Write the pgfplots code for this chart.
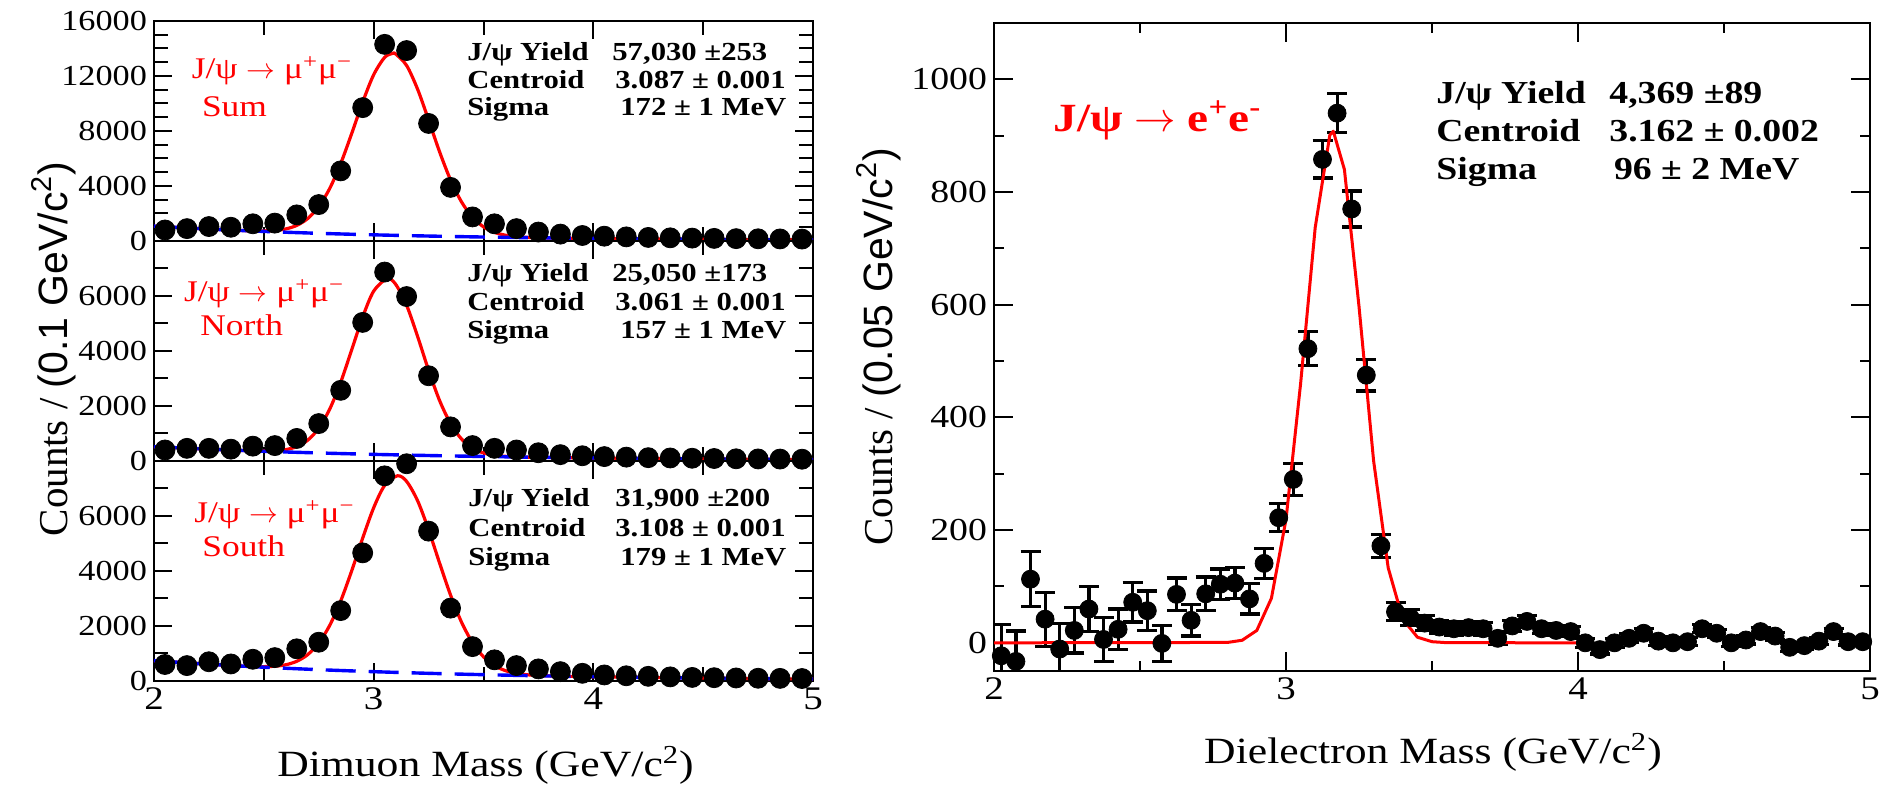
\documentclass[border=0pt]{standalone}
\usepackage{fontspec}
\setmainfont{Liberation Serif}[FakeStretch=1.18]
\newfontfamily\rserif{Liberation Serif}
\newfontfamily\rsans{Liberation Sans}
\usepackage{pgfplots}
\pgfplotsset{compat=1.18}
\newcommand{\fs}[1]{\fontsize{#1}{#1}\selectfont}
\newcommand{\arr}{\ensuremath{\rightarrow}}
\begin{document}
\begin{tikzpicture}
\useasboundingbox (0,0) rectangle (945pt,-392.5pt);
\pgfplotsset{
  leftpanel/.style={
    at={(77pt,#1)}, anchor=north west,
    width=329.5pt, height=110pt, scale only axis,
    xmin=2, xmax=5, ymin=0,
    xtick={2,3,4,5}, minor xtick={2.5,3.5,4.5},
    tick align=inside, major tick length=9pt, minor tick length=7pt,
    axis line style={line width=1pt},
    tick style={black, line width=1pt},
    yticklabel style={font=\fs{14.5}},
    xticklabel style={font=\fs{16.5}},
    scaled y ticks=false,
    /pgf/number format/assume math mode=true,
    /pgf/number format/1000 sep={},
  },
  datapts/.style={only marks, mark=*, mark size=5pt, black, mark options={fill=black, draw=black}},
  fitline/.style={red, line width=1.6pt, smooth, line join=round},
  bgline/.style={blue, line width=1.7pt, dash pattern=on 15pt off 6.5pt, smooth},
}
% ---------- top panel (Sum)
\begin{axis}[leftpanel={-10.5pt}, ymax=16000,
  ytick={0,4000,8000,12000,16000},
  minor ytick={1000,2000,3000,5000,6000,7000,9000,10000,11000,13000,14000,15000},
  xticklabels={}]
\addplot[datapts] coordinates {(2.05,800)(2.15,900)(2.25,1050)(2.35,1000)(2.45,1250)(2.55,1300)(2.65,1900)(2.75,2650)(2.85,5100)(2.95,9700)(3.05,14300)(3.15,13850)(3.25,8550)(3.35,3900)(3.45,1750)(3.55,1250)(3.65,900)(3.75,650)(3.85,500)(3.95,400)(4.05,350)(4.15,300)(4.25,260)(4.35,230)(4.45,210)(4.55,190)(4.65,170)(4.75,160)(4.85,150)(4.95,140)};
\addplot[fitline] coordinates {(2.0,1080)(2.1,989)(2.2,906)(2.3,829)(2.4,760)(2.45,741)(2.5,735)(2.55,767)(2.6,877)(2.65,1134)(2.7,1636)(2.75,2499)(2.8,3823)(2.85,5631)(2.9,7816)(2.95,10102)(3.0,12089)(3.05,13356)(3.087,13645)(3.1,13602)(3.15,12764)(3.2,11038)(3.25,8805)(3.3,6489)(3.35,4440)(3.4,2842)(3.45,1728)(3.5,1029)(3.55,629)(3.6,419)(3.65,315)(3.7,265)(3.75,240)(3.8,222)(4.0,186)(4.25,149)(4.5,120)(4.75,96)(5.0,77)};
\addplot[bgline] coordinates {(2.0,1080)(2.25,867)(2.5,696)(2.75,558)(3.0,448)(3.25,360)(3.5,288)(3.75,232)(4.0,186)(4.25,149)(4.5,120)(4.75,96)(5.0,77)};
\end{axis}
% ---------- middle panel (North)
\begin{axis}[leftpanel={-120.5pt}, ymax=8000,
  ytick={0,2000,4000,6000}, minor ytick={1000,3000,5000,7000},
  xticklabels={}]
\addplot[datapts] coordinates {(2.05,400)(2.15,460)(2.25,460)(2.35,430)(2.45,540)(2.55,560)(2.65,820)(2.75,1360)(2.85,2570)(2.95,5040)(3.05,6870)(3.15,5980)(3.25,3100)(3.35,1240)(3.45,560)(3.55,460)(3.65,400)(3.75,300)(3.85,230)(3.95,190)(4.05,160)(4.15,140)(4.25,120)(4.35,110)(4.45,100)(4.55,90)(4.65,80)(4.75,75)(4.85,70)(4.95,65)};
\addplot[fitline] coordinates {(2.0,520)(2.1,481)(2.2,446)(2.3,413)(2.4,382)(2.5,365)(2.55,373)(2.6,414)(2.65,523)(2.7,758)(2.75,1192)(2.8,1888)(2.85,2864)(2.9,4043)(2.95,5235)(3.0,6176)(3.061,6630)(3.1,6428)(3.15,5664)(3.2,4531)(3.25,3300)(3.3,2200)(3.35,1360)(3.4,799)(3.45,467)(3.5,292)(3.55,208)(3.6,170)(3.65,152)(3.7,140)(3.8,130)(4.0,111)(4.25,92)(4.5,76)(4.75,63)(5.0,52)};
\addplot[bgline] coordinates {(2.0,520)(2.25,429)(2.5,354)(2.75,292)(3.0,241)(3.25,199)(3.5,164)(3.75,135)(4.0,111)(4.25,92)(4.5,76)(4.75,63)(5.0,52)};
\end{axis}
% ---------- bottom panel (South)
\begin{axis}[leftpanel={-230.5pt}, ymax=8000,
  ytick={0,2000,4000,6000}, minor ytick={1000,3000,5000,7000}]
\addplot[datapts] coordinates {(2.05,600)(2.15,560)(2.25,700)(2.35,620)(2.45,790)(2.55,850)(2.65,1170)(2.75,1410)(2.85,2560)(2.95,4660)(3.05,7460)(3.15,7900)(3.25,5450)(3.35,2650)(3.45,1250)(3.55,770)(3.65,560)(3.75,440)(3.85,340)(3.95,280)(4.05,220)(4.15,190)(4.25,170)(4.35,150)(4.45,130)(4.55,120)(4.65,110)(4.75,100)(4.85,95)(4.95,90)};
\addplot[fitline] coordinates {(2.0,740)(2.1,684)(2.2,633)(2.3,586)(2.4,542)(2.45,529)(2.5,523)(2.55,537)(2.6,590)(2.65,717)(2.7,961)(2.75,1380)(2.8,2023)(2.85,2911)(2.9,4007)(2.95,5196)(3.0,6299)(3.05,7111)(3.108,7462)(3.15,7258)(3.2,6555)(3.25,5499)(3.3,4290)(3.35,3125)(3.4,2138)(3.45,1392)(3.5,880)(3.55,560)(3.6,376)(3.65,277)(3.7,226)(3.75,201)(3.8,186)(3.9,168)(4.0,155)(4.25,128)(4.5,105)(4.75,87)(5.0,71)};
\addplot[bgline] coordinates {(2.0,740)(2.25,609)(2.5,501)(2.75,412)(3.0,339)(3.25,279)(3.5,230)(3.75,189)(4.0,155)(4.25,128)(4.5,105)(4.75,87)(5.0,71)};
\end{axis}
% ---------- right panel (dielectron)
\begin{axis}[at={(497pt,-11.5pt)}, anchor=north west,
  width=438pt, height=324pt, scale only axis,
  xmin=2, xmax=5, ymin=-50, ymax=1100,
  xtick={2,3,4,5}, minor xtick={2.5,3.5,4.5},
  ytick={0,200,400,600,800,1000}, minor ytick={100,300,500,700,900},
  tick align=inside, major tick length=9.5pt, minor tick length=5pt,
  axis line style={line width=1pt},
  tick style={black, line width=1pt},
  yticklabel style={font=\fs{16}},
  xticklabel style={font=\fs{16.5}},
  scaled y ticks=false,
  /pgf/number format/assume math mode=true,
  /pgf/number format/1000 sep={}]
\addplot[only marks, mark=*, mark size=4.5pt, black,
  error bars/.cd, y dir=both, y explicit,
  error bar style={line width=1.6pt, black},
  error mark options={rotate=90, mark size=5pt, line width=1.6pt, black}]
  table[x=x, y=y, y error=e] {
x y e
2.025 -23 56
2.075 -33 54
2.125 113 49
2.175 42 48
2.225 -11 45
2.275 22 40
2.325 60 40
2.375 6 39
2.425 24 36
2.475 72 35
2.525 57 35
2.575 -1 32
2.625 86 29
2.675 40 28
2.725 87 30
2.775 104 27
2.825 106 27
2.875 78 27
2.925 141 27
2.975 222 25
3.025 290 28
3.075 522 30
3.125 858 33
3.175 940 35
3.225 770 32
3.275 475 28
3.325 172 20
3.375 55 16
3.425 45 14
3.475 35 13
3.525 28 12
3.575 25 12
3.625 27 11
3.675 25 11
3.725 8 10
3.775 30 10
3.825 38 10
3.875 25 9
3.925 22 9
3.975 20 9
4.025 0 8
4.075 -12 8
4.125 0 8
4.175 8 8
4.225 17 8
4.275 3 8
4.325 0 7
4.375 2 7
4.425 25 7
4.475 17 7
4.525 0 7
4.575 5 7
4.625 20 7
4.675 12 7
4.725 -8 7
4.775 -5 6
4.825 3 6
4.875 20 6
4.925 2 6
4.975 2 6
};
\addplot[red, line width=1.5pt, line join=round] coordinates {(2.0,0)(2.8,0.7)(2.85,4.6)(2.9,22)(2.95,79)(3.0,219)(3.05,460)(3.1,737)(3.15,901)(3.162,908)(3.2,840)(3.25,597)(3.3,323)(3.35,133)(3.4,42)(3.45,10)(3.5,2)(3.55,0.3)(4.0,0)};
\end{axis}
% ---------- annotations, left
\begin{scope}[every node/.style={inner sep=0pt, anchor=base west}]
\node[font=\fs{13}\bfseries] at (233.5pt,-30.5pt) {J/ψ Yield};
\node[font=\fs{13}\bfseries] at (306pt,-30.5pt) {57,030 ±253};
\node[font=\fs{13}\bfseries] at (233.5pt,-44.5pt) {Centroid};
\node[font=\fs{13}\bfseries] at (307.5pt,-44.5pt) {3.087 ± 0.001};
\node[font=\fs{13}\bfseries] at (233.5pt,-58pt) {Sigma};
\node[font=\fs{13}\bfseries] at (310pt,-58pt) {172 ± 1 MeV};
\node[font=\fs{15}, text=red] at (95.7pt,-39.5pt) {J/ψ \arr{} μ\textsuperscript{+}μ\textsuperscript{−}};
\node[font=\fs{15}, text=red] at (100.8pt,-58.5pt) {Sum};
%
\node[font=\fs{13}\bfseries] at (233.5pt,-141pt) {J/ψ Yield};
\node[font=\fs{13}\bfseries] at (306pt,-141pt) {25,050 ±173};
\node[font=\fs{13}\bfseries] at (233.5pt,-155.5pt) {Centroid};
\node[font=\fs{13}\bfseries] at (307.5pt,-155.5pt) {3.061 ± 0.001};
\node[font=\fs{13}\bfseries] at (233.5pt,-169.5pt) {Sigma};
\node[font=\fs{13}\bfseries] at (310pt,-169.5pt) {157 ± 1 MeV};
\node[font=\fs{15}, text=red] at (91.8pt,-151pt) {J/ψ \arr{} μ\textsuperscript{+}μ\textsuperscript{−}};
\node[font=\fs{15}, text=red] at (100pt,-168pt) {North};
%
\node[font=\fs{13}\bfseries] at (234pt,-253.5pt) {J/ψ Yield};
\node[font=\fs{13}\bfseries] at (307.5pt,-253.5pt) {31,900 ±200};
\node[font=\fs{13}\bfseries] at (234pt,-268.5pt) {Centroid};
\node[font=\fs{13}\bfseries] at (307.5pt,-268.5pt) {3.108 ± 0.001};
\node[font=\fs{13}\bfseries] at (234pt,-283pt) {Sigma};
\node[font=\fs{13}\bfseries] at (310pt,-283pt) {179 ± 1 MeV};
\node[font=\fs{15}, text=red] at (97pt,-261.5pt) {J/ψ \arr{} μ\textsuperscript{+}μ\textsuperscript{−}};
\node[font=\fs{15}, text=red] at (101pt,-278.5pt) {South};
% ---------- annotations, right
\node[font=\fs{16}\bfseries] at (718pt,-51.7pt) {J/ψ Yield};
\node[font=\fs{16}\bfseries] at (804.5pt,-51.7pt) {4,369 ±89};
\node[font=\fs{16}\bfseries] at (718pt,-70.8pt) {Centroid};
\node[font=\fs{16}\bfseries] at (804.5pt,-70.8pt) {3.162 ± 0.002};
\node[font=\fs{16}\bfseries] at (718pt,-90pt) {Sigma};
\node[font=\fs{16}\bfseries] at (806.8pt,-90pt) {96 ± 2 MeV};
\node[font=\fs{20}\bfseries, text=red] at (526.5pt,-66pt) {J/ψ \arr{} e\textsuperscript{+}e\textsuperscript{-}};
\end{scope}
% ---------- axis labels
\node[anchor=base, inner sep=0pt, font=\fs{18.5}] at (242.75pt,-388pt) {Dimuon Mass (GeV/c\textsuperscript{2})};
\node[anchor=base, inner sep=0pt, font=\fs{18.5}] at (716.5pt,-381.5pt) {Dielectron Mass (GeV/c\textsuperscript{2})};
\node[anchor=base, inner sep=0pt, rotate=90, font=\fs{20.5}] at (33.5pt,-174.5pt) {\rserif Counts / \rsans(0.1 GeV/c\textsuperscript{2})};
\node[anchor=base, inner sep=0pt, rotate=90, font=\fs{20.5}] at (446pt,-173.5pt) {\rserif Counts / \rsans(0.05 GeV/c\textsuperscript{2})};
\end{tikzpicture}
\end{document}
